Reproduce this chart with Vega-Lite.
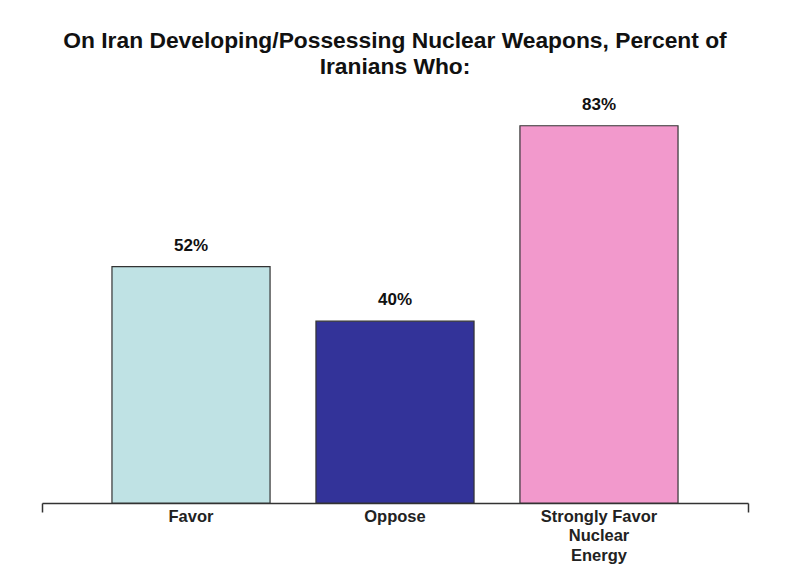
{
  "$schema": "https://vega.github.io/schema/vega-lite/v6.json",
  "autosize": "none",
  "padding": {"left": 42, "top": 103, "right": 52, "bottom": 80},
  "width": 706,
  "height": 400,
  "background": "white",
  "title": {
    "text": ["On Iran Developing/Possessing Nuclear Weapons, Percent of", "Iranians Who:"],
    "font": "Liberation Sans",
    "fontSize": 22.8,
    "fontWeight": "bold",
    "color": "#111111",
    "lineHeight": 26,
    "anchor": "middle",
    "baseline": "top",
    "offset": 17
  },
  "config": {"view": {"stroke": null}},
  "layer": [
    {
      "data": {"values": [
        {"answer": "Favor", "pct": 52},
        {"answer": "Oppose", "pct": 40},
        {"answer": "Strongly Favor Nuclear Energy", "pct": 83}
      ]},
      "layer": [
        {
          "mark": {"type": "bar", "stroke": "#333333", "strokeWidth": 1.2},
          "encoding": {
            "x": {"field": "answer", "type": "nominal", "sort": null,
              "scale": {"paddingInner": 0.225, "paddingOuter": 0.343},
              "axis": {"title": null, "labelAngle": 0, "domain": false, "ticks": false,
                "labelFont": "Liberation Sans", "labelFontWeight": "bold", "labelFontSize": 16.5,
                "labelColor": "#222222", "labelPadding": 5, "labelLineHeight": 19.5,
                "labelExpr": "datum.value == 'Strongly Favor Nuclear Energy' ? ['Strongly Favor','Nuclear','Energy'] : datum.value"}},
            "y": {"field": "pct", "type": "quantitative", "scale": {"domain": [0, 88], "nice": false}, "axis": null},
            "color": {"field": "answer", "type": "nominal", "legend": null,
              "scale": {"domain": ["Favor", "Oppose", "Strongly Favor Nuclear Energy"], "range": ["#bfe2e4", "#333399", "#f299cc"]}}
          }
        },
        {
          "mark": {"type": "text", "baseline": "bottom", "dy": -12, "font": "Liberation Sans", "fontWeight": "bold", "fontSize": 17, "color": "#111111"},
          "encoding": {
            "x": {"field": "answer", "type": "nominal", "sort": null},
            "y": {"field": "pct", "type": "quantitative"},
            "text": {"value": {"expr": "datum.pct + '%'"}}
          }
        }
      ]
    },
    {
      "data": {"values": [{"e": 0}, {"e": 1}]},
      "mark": {"type": "tick", "opacity": 0},
      "encoding": {
        "x": {"field": "e", "type": "quantitative", "scale": {"domain": [0, 1], "nice": false},
          "axis": {"orient": "bottom", "title": null, "labels": false, "values": [0, 1], "tickSize": 9,
            "tickColor": "#333333", "domainColor": "#333333", "tickWidth": 1.5, "domainWidth": 1.5, "grid": false}}
      }
    }
  ],
  "resolve": {"scale": {"x": "independent"}, "axis": {"x": "independent"}}
}
